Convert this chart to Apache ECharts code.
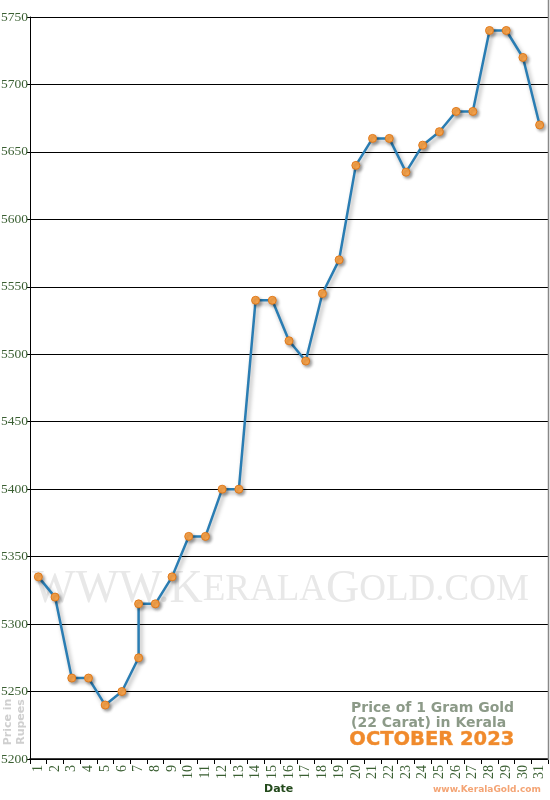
<!DOCTYPE html>
<html>
<head>
<meta charset="utf-8">
<script src="https://cdn.jsdelivr.net/npm/echarts@6/dist/echarts.min.js"></script>
<style>
  html, body { margin: 0; padding: 0; background: #fff; }
  #chart { width: 550px; height: 800px; }
</style>
</head>
<body>
<div id="chart"></div>
<script>
// dates of October 2023
const dates = ['1','2','3','4','5','6','7','8','9','10','11','12','13','14','15','16',
  '17','18','19','20','21','22','23','24','25','26','27','28','29','30','31']

// price points; date 7 had two price changes
const pointDates = ['1','2','3','4','5','6','7','7','8','9','10','11','12','13','14','15','16',
  '17','18','19','20','21','22','23','24','25','26','27','28','29','30','31']
const prices = [5335, 5320, 5260, 5260, 5240, 5250, 5275, 5315, 5315, 5335, 5365, 5365, 5400, 5400,
  5540, 5540, 5510, 5495, 5545, 5570, 5640, 5660, 5660, 5635, 5655, 5665, 5680, 5680,
  5740, 5740, 5720, 5670]

const yMin = 5200
const yMax = 5750
const yStep = 50

const chart = echarts.init(document.getElementById('chart'))

const green = '#3a5f32'
const orange = '#f08a2c'

const option = {
  animation: false,
  backgroundColor: '#fff',
  grid: {
    left: 30,
    right: 2,
    top: 17,
    bottom: 41,
    containLabel: false,
    outerBoundsMode: 'none'
  },
  xAxis: {
    type: 'category',
    data: dates,
    boundaryGap: true,
    axisLine: { lineStyle: { color: '#000', width: 1.5 } },
    axisTick: { show: true, length: 5, lineStyle: { color: '#000' } },
    axisLabel: {
      rotate: 90,
      interval: 0,
      color: green,
      fontFamily: 'Liberation Serif',
      fontSize: 14,
      margin: 6
    },
    splitLine: { show: false }
  },
  yAxis: {
    type: 'value',
    min: yMin,
    max: yMax,
    interval: yStep,
    axisLine: { show: true, lineStyle: { color: '#000', width: 1 } },
    axisTick: { show: true, length: 3, lineStyle: { color: '#000' } },
    axisLabel: {
      color: green,
      fontFamily: 'Liberation Serif',
      fontSize: 13.5,
      margin: 2,
      formatter: v => String(v)
    },
    splitLine: { lineStyle: { color: '#000', width: 1.2 } }
  },
  graphic: [
    // right frame edge
    {
      type: 'line',
      shape: { x1: 548.5, y1: 0, x2: 548.5, y2: 760 },
      style: { stroke: '#888', lineWidth: 1.5 },
      z: 5
    },
    // watermark
    {
      type: 'text',
      left: 32,
      top: 567,
      z: -1,
      style: {
        text: '{b|WWW.K}{s|ERALA}{b|G}{s|OLD.COM}',
        rich: {
          b: { fontFamily: 'Liberation Serif', fontSize: 46, fill: '#e8e8e8' },
          s: { fontFamily: 'Liberation Serif', fontSize: 37, fill: '#e8e8e8' }
        }
      }
    },
    {
      type: 'text',
      left: 351,
      top: 701,
      style: {
        text: 'Price of 1 Gram Gold\n(22 Carat) in Kerala',
        fontFamily: 'DejaVu Sans',
        fontWeight: 'bold',
        fontSize: 14,
        lineHeight: 15,
        fill: '#8c9a88'
      }
    },
    {
      type: 'text',
      left: 349,
      top: 730,
      style: {
        text: 'OCTOBER 2023',
        fontFamily: 'DejaVu Sans',
        fontWeight: 'bold',
        fontSize: 19.5,
        fill: orange,
        stroke: '#f8b774',
        lineWidth: 0.6
      }
    },
    {
      type: 'text',
      left: 264,
      top: 784,
      style: {
        text: 'Date',
        fontFamily: 'DejaVu Sans',
        fontWeight: 'bold',
        fontSize: 11,
        fill: '#234a1c'
      }
    },
    {
      type: 'text',
      left: 433,
      top: 785,
      style: {
        text: 'www.KeralaGold.com',
        fontFamily: 'DejaVu Sans',
        fontWeight: 'bold',
        fontSize: 9,
        fill: '#f4a474'
      }
    },
    {
      type: 'text',
      x: 15,
      y: 722,
      rotation: Math.PI / 2,
      style: {
        text: 'Price in\nRupees',
        fontFamily: 'DejaVu Sans',
        fontWeight: 'bold',
        fontSize: 11,
        lineHeight: 13,
        fill: '#cfcfcf',
        align: 'center',
        verticalAlign: 'middle'
      }
    }
  ],
  series: [
    {
      type: 'line',
      data: pointDates.map((d, i) => [d, prices[i]]),
      symbol: 'circle',
      symbolSize: 8,
      lineStyle: {
        color: '#2a7db3',
        width: 2.5,
        shadowColor: 'rgba(0,0,0,0.35)',
        shadowBlur: 4,
        shadowOffsetX: 2,
        shadowOffsetY: 3
      },
      itemStyle: {
        color: '#f8a44c',
        borderColor: '#e07a1c',
        borderWidth: 1,
        shadowColor: 'rgba(0,0,0,0.3)',
        shadowBlur: 3,
        shadowOffsetX: 2,
        shadowOffsetY: 2
      },
      z: 3
    }
  ]
}

chart.setOption(option)
</script>
</body>
</html>
